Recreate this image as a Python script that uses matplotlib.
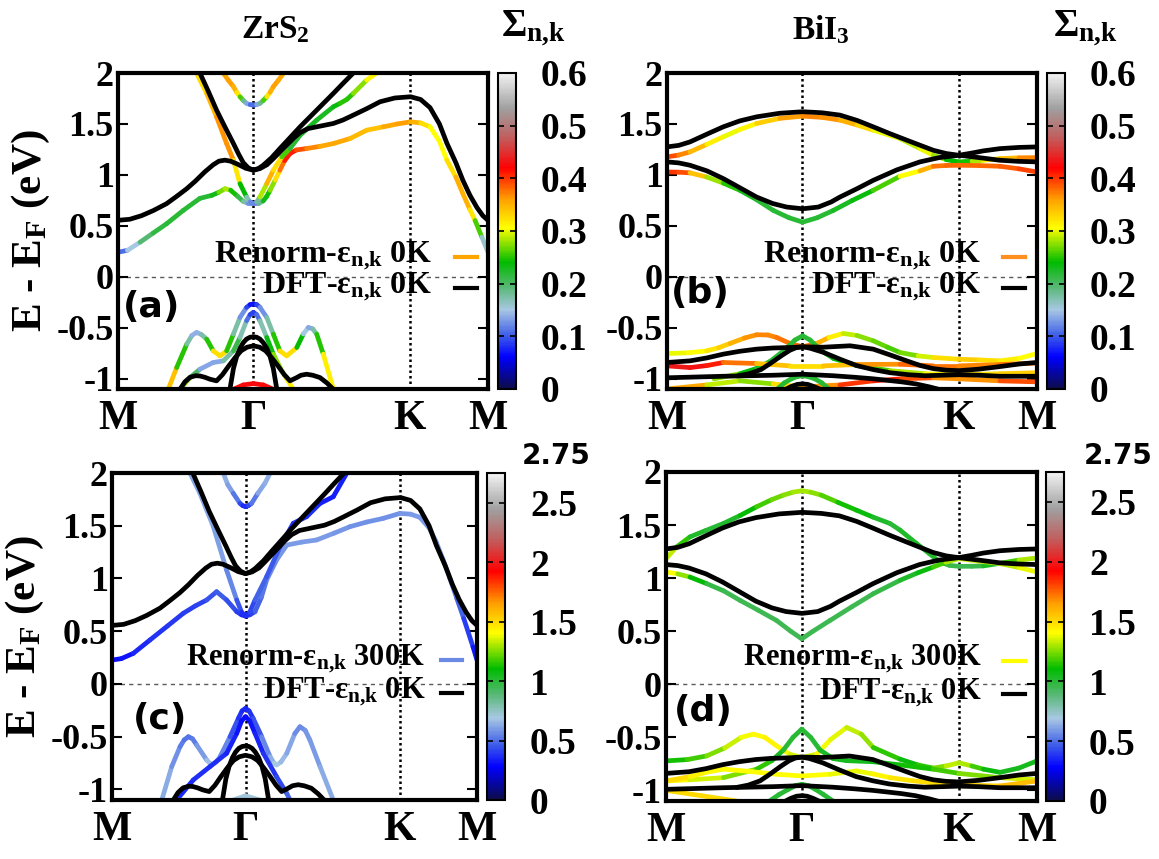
import numpy as np
import matplotlib
matplotlib.use("Agg")
import matplotlib.pyplot as plt
from matplotlib.collections import LineCollection
from matplotlib.colors import LinearSegmentedColormap, Normalize
from matplotlib.cm import ScalarMappable

plt.rcParams['font.family'] = 'Liberation Serif'
plt.rcParams['font.weight'] = 'bold'
plt.rcParams['axes.labelweight'] = 'bold'
plt.rcParams['mathtext.fontset'] = 'custom'
plt.rcParams['mathtext.rm'] = 'Liberation Serif:bold'
plt.rcParams['mathtext.it'] = 'Liberation Serif:bold'
plt.rcParams['mathtext.bf'] = 'Liberation Serif:bold'

# high-symmetry path M - Gamma - K - M
k_ticks = [0.0, 0.577, 1.244, 1.577]
k_labels = ['M', 'Γ', 'K', 'M']

# ---- ZrS2, DFT bands (k, E) ----
zr_dft_cb1 = ([0.0, 0.05, 0.10, 0.15, 0.207, 0.25, 0.293, 0.33, 0.37, 0.406, 0.43, 0.455, 0.48, 0.51, 0.545,
               0.577, 0.605, 0.635, 0.662, 0.69, 0.719, 0.748, 0.776, 0.81, 0.847, 0.918, 0.96, 1.003, 1.06,
               1.117, 1.18, 1.247, 1.29, 1.33, 1.37, 1.402, 1.44, 1.47, 1.50, 1.53, 1.555, 1.577],
              [0.555, 0.565, 0.60, 0.65, 0.718, 0.79, 0.865, 0.94, 1.03, 1.10, 1.135, 1.145, 1.135, 1.105,
               1.065, 1.046, 1.062, 1.10, 1.16, 1.225, 1.292, 1.36, 1.415, 1.455, 1.472, 1.505, 1.54, 1.587,
               1.65, 1.718, 1.755, 1.767, 1.74, 1.66, 1.50, 1.31, 1.12, 0.947, 0.80, 0.68, 0.60, 0.555])
zr_dft_cb2 = ([0.33, 0.349, 0.385, 0.42, 0.456, 0.492, 0.515, 0.534, 0.555, 0.577, 0.60, 0.619, 0.655, 0.69,
               0.733, 0.776, 0.847, 0.918, 0.96, 1.003, 1.03],
              [2.08, 2.0, 1.82, 1.636, 1.47, 1.308, 1.20, 1.12, 1.07, 1.046, 1.065, 1.095, 1.17, 1.259,
               1.365, 1.472, 1.636, 1.80, 1.90, 2.0, 2.08])
zr_dft_vb1 = ([0.477, 0.492, 0.506, 0.520, 0.534, 0.548, 0.563, 0.577, 0.591, 0.605, 0.619, 0.634, 0.648,
               0.662, 0.677],
              [-1.103, -0.90, -0.78, -0.70, -0.645, -0.61, -0.592, -0.588, -0.592, -0.61, -0.645, -0.70,
               -0.78, -0.90, -1.103])
zr_dft_vb2 = ([0.264, 0.285, 0.307, 0.33, 0.349, 0.37, 0.392, 0.42, 0.445, 0.47, 0.50, 0.525, 0.55, 0.577,
               0.604, 0.629, 0.654, 0.684, 0.709, 0.733, 0.76, 0.78, 0.804, 0.83, 0.861, 0.89, 0.918],
              [-1.103, -1.03, -0.985, -0.97, -0.972, -0.985, -1.004, -1.02, -0.96, -0.88, -0.79, -0.725,
               -0.69, -0.676, -0.69, -0.725, -0.79, -0.88, -0.96, -1.02, -0.99, -0.965, -0.955, -0.965,
               -0.988, -1.04, -1.103])

# ---- ZrS2, renormalised 0K (k, E, Sigma) ----
zr0_cb1 = ([0.0, 0.04, 0.094, 0.15, 0.207, 0.278, 0.349, 0.40, 0.43, 0.456, 0.48, 0.51, 0.534, 0.555, 0.577,
            0.60, 0.619, 0.634, 0.648, 0.67, 0.69, 0.71, 0.733, 0.76, 0.804, 0.86, 0.918, 0.989, 1.06, 1.131,
            1.19, 1.247, 1.29, 1.33, 1.37, 1.402, 1.44, 1.47, 1.50, 1.522, 1.551, 1.577],
           [0.242, 0.26, 0.34, 0.43, 0.521, 0.652, 0.77, 0.80, 0.83, 0.865, 0.85, 0.79, 0.74, 0.72, 0.718,
            0.72, 0.745, 0.79, 0.849, 0.95, 1.046, 1.14, 1.21, 1.245, 1.259, 1.28, 1.308, 1.357, 1.439,
            1.472, 1.50, 1.521, 1.51, 1.472, 1.33, 1.144, 0.98, 0.816, 0.66, 0.553, 0.39, 0.242],
           [0.10, 0.12, 0.18, 0.21, 0.22, 0.22, 0.22, 0.22, 0.24, 0.30, 0.27, 0.22, 0.20, 0.15, 0.10,
            0.15, 0.22, 0.24, 0.25, 0.30, 0.35, 0.40, 0.42, 0.40, 0.38, 0.36, 0.35, 0.36, 0.33, 0.35,
            0.36, 0.36, 0.34, 0.31, 0.30, 0.31, 0.34, 0.36, 0.34, 0.30, 0.22, 0.10])
zr0_cb2 = ([0.33, 0.335, 0.378, 0.42, 0.463, 0.492, 0.52, 0.548, 0.563, 0.577, 0.591, 0.605, 0.634, 0.662,
            0.698, 0.733, 0.776, 0.847, 0.918, 0.946, 0.975, 1.003, 1.06, 1.10, 1.11],
           [2.05, 1.997, 1.80, 1.57, 1.308, 1.144, 0.914, 0.783, 0.735, 0.718, 0.735, 0.783, 0.914, 1.046,
            1.177, 1.259, 1.39, 1.538, 1.669, 1.702, 1.74, 1.80, 1.931, 1.997, 2.05],
           [0.32, 0.32, 0.33, 0.36, 0.37, 0.36, 0.28, 0.20, 0.14, 0.10, 0.14, 0.22, 0.35, 0.35,
            0.30, 0.22, 0.22, 0.23, 0.22, 0.25, 0.25, 0.25, 0.30, 0.32, 0.32])
zr0_cb3 = ([0.43, 0.449, 0.47, 0.492, 0.506, 0.52, 0.534, 0.548, 0.563, 0.577, 0.591, 0.605, 0.619, 0.634,
            0.648, 0.662, 0.684, 0.705, 0.72],
           [2.05, 1.997, 1.93, 1.866, 1.81, 1.767, 1.73, 1.702, 1.69, 1.685, 1.69, 1.702, 1.73, 1.767,
            1.81, 1.866, 1.93, 1.997, 2.05],
           [0.35, 0.35, 0.36, 0.36, 0.34, 0.30, 0.22, 0.15, 0.12, 0.10, 0.12, 0.15, 0.22, 0.30,
            0.34, 0.36, 0.36, 0.35, 0.35])
zr0_vb1 = ([0.214, 0.250, 0.293, 0.315, 0.335, 0.355, 0.378, 0.406, 0.435, 0.463, 0.492, 0.520, 0.548,
            0.563, 0.577, 0.591, 0.605, 0.634, 0.662, 0.690, 0.719, 0.762, 0.79, 0.811, 0.83, 0.847,
            0.875, 0.918],
           [-1.103, -0.89, -0.66, -0.575, -0.545, -0.565, -0.611, -0.726, -0.775, -0.726, -0.562, -0.398,
            -0.299, -0.272, -0.266, -0.272, -0.299, -0.398, -0.562, -0.726, -0.775, -0.693, -0.56,
            -0.496, -0.51, -0.562, -0.758, -1.103],
           [0.38, 0.30, 0.20, 0.15, 0.13, 0.15, 0.20, 0.30, 0.35, 0.30, 0.20, 0.15, 0.10, 0.08, 0.06,
            0.08, 0.10, 0.15, 0.20, 0.30, 0.35, 0.30, 0.18, 0.12, 0.15, 0.20, 0.30, 0.33])
zr0_vb2 = ([0.264, 0.307, 0.349, 0.406, 0.449, 0.492, 0.520, 0.548, 0.563, 0.577, 0.591, 0.605, 0.634,
            0.662, 0.698, 0.747],
           [-1.103, -0.988, -0.906, -0.84, -0.824, -0.726, -0.594, -0.43, -0.37, -0.348, -0.37, -0.43,
            -0.594, -0.758, -0.922, -1.103],
           [0.30, 0.25, 0.15, 0.12, 0.15, 0.20, 0.22, 0.12, 0.10, 0.08, 0.10, 0.12, 0.22, 0.25, 0.30, 0.33])
zr0_vb3 = ([0.492, 0.534, 0.577, 0.619, 0.662],
           [-1.103, -1.06, -1.047, -1.06, -1.103],
           [0.42, 0.43, 0.42, 0.43, 0.42])

# ---- ZrS2, renormalised 300K (k, E, Sigma) ----
zr300_cb1 = ([0.0, 0.04, 0.092, 0.164, 0.24, 0.308, 0.36, 0.409, 0.452, 0.495, 0.539, 0.56, 0.577, 0.595,
              0.618, 0.645, 0.668, 0.711, 0.755, 0.82, 0.884, 0.96, 1.028, 1.10, 1.172, 1.244, 1.29, 1.33,
              1.37, 1.40, 1.43, 1.46, 1.49, 1.52, 1.56, 1.577],
             [0.227, 0.24, 0.29, 0.417, 0.55, 0.67, 0.74, 0.796, 0.875, 0.796, 0.685, 0.655, 0.644, 0.655,
              0.685, 0.82, 0.985, 1.175, 1.317, 1.345, 1.365, 1.43, 1.491, 1.535, 1.57, 1.617, 1.61, 1.58,
              1.48, 1.35, 1.18, 1.0, 0.81, 0.62, 0.35, 0.227],
             [0.30, 0.31, 0.33, 0.38, 0.39, 0.40, 0.41, 0.42, 0.48, 0.45, 0.42, 0.38, 0.35, 0.38,
              0.45, 0.50, 0.55, 0.58, 0.60, 0.60, 0.60, 0.59, 0.58, 0.58, 0.58, 0.58, 0.59, 0.60,
              0.60, 0.60, 0.58, 0.55, 0.50, 0.45, 0.35, 0.30])
zr300_cb2 = ([0.32, 0.330, 0.380, 0.438, 0.495, 0.539, 0.56, 0.577, 0.595, 0.618, 0.668, 0.726, 0.783,
              0.841, 0.899, 0.956, 1.014, 1.03],
             [2.06, 2.03, 1.807, 1.491, 1.08, 0.796, 0.68, 0.644, 0.68, 0.796, 1.017, 1.301, 1.523,
              1.586, 1.712, 1.775, 1.997, 2.06],
             [0.62, 0.62, 0.62, 0.62, 0.60, 0.50, 0.40, 0.35, 0.40, 0.45, 0.50, 0.42, 0.35,
              0.40, 0.35, 0.32, 0.35, 0.35])
zr300_cb3 = ([0.47, 0.481, 0.50, 0.524, 0.553, 0.565, 0.577, 0.589, 0.603, 0.63, 0.66, 0.683, 0.69],
             [2.05, 1.997, 1.89, 1.807, 1.712, 1.69, 1.681, 1.69, 1.712, 1.807, 1.90, 1.997, 2.05],
             [0.65, 0.65, 0.62, 0.60, 0.45, 0.40, 0.35, 0.40, 0.45, 0.60, 0.63, 0.65, 0.65])
zr300_vb1 = ([0.215, 0.258, 0.294, 0.312, 0.330, 0.348, 0.366, 0.409, 0.431, 0.45, 0.467, 0.510, 0.546,
              0.562, 0.577, 0.592, 0.610, 0.647, 0.683, 0.70, 0.711, 0.73, 0.755, 0.79, 0.812, 0.835,
              0.855, 0.899, 0.956],
             [-1.10, -0.784, -0.594, -0.53, -0.5, -0.52, -0.579, -0.721, -0.768, -0.74, -0.689, -0.5,
              -0.326, -0.255, -0.231, -0.255, -0.326, -0.5, -0.689, -0.75, -0.768, -0.74, -0.658,
              -0.47, -0.405, -0.44, -0.531, -0.784, -1.10],
             [0.65, 0.60, 0.55, 0.52, 0.50, 0.52, 0.55, 0.65, 0.70, 0.66, 0.60, 0.50, 0.40, 0.37,
              0.35, 0.37, 0.40, 0.50, 0.60, 0.68, 0.70, 0.68, 0.65, 0.58, 0.55, 0.57, 0.60, 0.60, 0.65])
zr300_vb2 = ([0.279, 0.351, 0.423, 0.495, 0.539, 0.56, 0.577, 0.595, 0.618, 0.654, 0.711, 0.755, 0.769],
             [-1.10, -0.91, -0.784, -0.658, -0.468, -0.35, -0.31, -0.35, -0.468, -0.658, -0.879, -1.037,
              -1.10],
             [0.35, 0.36, 0.38, 0.36, 0.33, 0.31, 0.30, 0.31, 0.33, 0.36, 0.40, 0.45, 0.50])
zr300_vb3 = ([0.524, 0.577, 0.639], [-1.10, -1.06, -1.10], [0.70, 0.70, 0.70])

# ---- BiI3, DFT bands (k, E) ----
bi_dft_cb1 = ([0.0, 0.05, 0.098, 0.17, 0.24, 0.31, 0.382, 0.48, 0.578, 0.66, 0.737, 0.81, 0.879, 0.95,
               1.022, 1.08, 1.135, 1.19, 1.244, 1.30, 1.348, 1.419, 1.50, 1.577],
              [1.275, 1.29, 1.324, 1.40, 1.472, 1.53, 1.570, 1.605, 1.620, 1.610, 1.587, 1.535, 1.472,
               1.405, 1.341, 1.29, 1.242, 1.21, 1.193, 1.215, 1.236, 1.258, 1.27, 1.275])
bi_dft_cb2 = ([0.0, 0.05, 0.098, 0.17, 0.24, 0.31, 0.382, 0.45, 0.51, 0.578, 0.645, 0.70, 0.737, 0.81,
               0.879, 0.98, 1.078, 1.16, 1.244, 1.33, 1.419, 1.50, 1.577],
              [1.128, 1.118, 1.095, 1.04, 0.964, 0.875, 0.783, 0.72, 0.685, 0.668, 0.685, 0.735, 0.783,
               0.865, 0.947, 1.05, 1.128, 1.17, 1.193, 1.17, 1.144, 1.133, 1.128])
bi_dft_vb1 = ([0.0, 0.098, 0.17, 0.24, 0.31, 0.382, 0.45, 0.524, 0.578, 0.666, 0.78, 0.879, 0.95, 1.022,
               1.08, 1.135, 1.19, 1.244, 1.33, 1.419, 1.50, 1.577],
              [-0.84, -0.824, -0.795, -0.758, -0.73, -0.709, -0.698, -0.693, -0.686, -0.69, -0.676, -0.709,
               -0.765, -0.824, -0.87, -0.90, -0.915, -0.92, -0.905, -0.88, -0.855, -0.84])
bi_dft_vb2 = ([0.30, 0.35, 0.40, 0.44, 0.49, 0.524, 0.55, 0.578, 0.61, 0.666, 0.74, 0.808, 0.88, 0.95,
               1.03, 1.1, 1.17, 1.244, 1.33, 1.419, 1.50, 1.577],
              [-0.972, -0.95, -0.91, -0.85, -0.77, -0.72, -0.695, -0.686, -0.70, -0.74, -0.81, -0.87,
               -0.91, -0.94, -0.96, -0.97, -0.965, -0.96, -0.965, -0.975, -0.975, -0.975])
bi_dft_vb3 = ([0.0, 0.24, 0.453, 0.578, 0.709, 0.80, 0.879, 0.94, 1.0, 1.06, 1.12, 1.17],
              [-0.99, -0.975, -0.965, -0.955, -0.97, -0.985, -1.0, -1.015, -1.03, -1.05, -1.08, -1.11])
bi_dft_vb4 = ([0.50, 0.53, 0.555, 0.578, 0.60, 0.625, 0.66], [-1.11, -1.075, -1.055, -1.05, -1.055, -1.075, -1.11])

# ---- BiI3, renormalised 0K (k, E, Sigma) ----
bi0_cb1 = ([0.0, 0.05, 0.098, 0.17, 0.24, 0.31, 0.382, 0.48, 0.578, 0.66, 0.737, 0.81, 0.879, 0.993, 1.078,
            1.135, 1.19, 1.244, 1.30, 1.348, 1.419, 1.50, 1.577],
           [1.177, 1.195, 1.226, 1.30, 1.374, 1.445, 1.505, 1.555, 1.577, 1.565, 1.538, 1.49, 1.439, 1.357,
            1.259, 1.193, 1.15, 1.128, 1.135, 1.144, 1.16, 1.168, 1.17],
           [0.40, 0.38, 0.36, 0.33, 0.30, 0.30, 0.32, 0.35, 0.37, 0.37, 0.36, 0.34, 0.32, 0.28, 0.30,
            0.30, 0.26, 0.22, 0.27, 0.30, 0.33, 0.36, 0.38])
bi0_cb2 = ([0.0, 0.05, 0.098, 0.169, 0.24, 0.311, 0.38, 0.453, 0.52, 0.578, 0.64, 0.709, 0.79, 0.879, 0.993,
            1.078, 1.135, 1.19, 1.244, 1.33, 1.419, 1.50, 1.577],
           [1.029, 1.027, 1.02, 0.98, 0.92, 0.849, 0.76, 0.652, 0.58, 0.537, 0.58, 0.652, 0.75, 0.849, 0.987,
            1.04, 1.085, 1.093, 1.095, 1.092, 1.085, 1.06, 1.029],
           [0.40, 0.40, 0.38, 0.30, 0.26, 0.24, 0.22, 0.22, 0.22, 0.22, 0.22, 0.22, 0.23, 0.24, 0.28,
            0.33, 0.37, 0.38, 0.38, 0.38, 0.38, 0.39, 0.40])
bi0_vb1 = ([0.0, 0.09, 0.169, 0.22, 0.269, 0.33, 0.382, 0.43, 0.467, 0.524, 0.578, 0.638, 0.69, 0.751, 0.81,
            0.879, 0.94, 0.993, 1.07, 1.135, 1.244, 1.33, 1.419, 1.50, 1.577],
           [-0.752, -0.745, -0.726, -0.695, -0.653, -0.60, -0.568, -0.57, -0.594, -0.653, -0.686, -0.653,
            -0.595, -0.555, -0.575, -0.627, -0.69, -0.742, -0.775, -0.791, -0.808, -0.815, -0.824, -0.80,
            -0.752],
           [0.30, 0.30, 0.31, 0.33, 0.34, 0.36, 0.37, 0.37, 0.37, 0.38, 0.38, 0.37, 0.33, 0.30, 0.28,
            0.27, 0.26, 0.26, 0.28, 0.31, 0.34, 0.33, 0.32, 0.31, 0.30])
bi0_vb2 = ([0.20, 0.311, 0.38, 0.439, 0.50, 0.545, 0.578, 0.61, 0.655, 0.709, 0.808, 0.95, 1.1, 1.244, 1.42,
            1.577],
           [-1.0, -0.95, -0.90, -0.83, -0.72, -0.62, -0.578, -0.62, -0.72, -0.80, -0.87, -0.92, -0.95, -0.96,
            -0.95, -0.94],
           [0.30, 0.25, 0.23, 0.22, 0.22, 0.22, 0.22, 0.22, 0.22, 0.23, 0.25, 0.27, 0.30, 0.32, 0.33, 0.34])
bi0_vb3 = ([0.0, 0.098, 0.17, 0.24, 0.382, 0.524, 0.578, 0.666, 0.808, 0.993, 1.135, 1.244, 1.419, 1.577],
           [-0.873, -0.89, -0.87, -0.84, -0.85, -0.873, -0.873, -0.873, -0.86, -0.857, -0.873, -0.873, -0.86,
            -0.845],
           [0.43, 0.44, 0.42, 0.40, 0.35, 0.33, 0.32, 0.33, 0.35, 0.38, 0.38, 0.37, 0.37, 0.38])
bi0_vb4 = ([0.0, 0.169, 0.311, 0.453, 0.578, 0.737, 0.879, 1.0, 1.135, 1.244, 1.419, 1.577],
           [-1.10, -1.06, -1.02, -1.05, -1.08, -1.06, -1.02, -1.0, -0.99, -1.0, -1.02, -1.03],
           [0.38, 0.33, 0.25, 0.30, 0.35, 0.38, 0.42, 0.40, 0.38, 0.35, 0.38, 0.40])
bi0_vb5 = ([0.47, 0.50, 0.53, 0.555, 0.578, 0.60, 0.63, 0.66, 0.69],
           [-1.10, -1.04, -1.0, -0.978, -0.97, -0.978, -1.0, -1.04, -1.10],
           [0.22, 0.22, 0.22, 0.22, 0.22, 0.22, 0.22, 0.22, 0.22])

# ---- BiI3, renormalised 300K (k, E, Sigma) ----
bi300_cb1 = ([0.0, 0.045, 0.102, 0.17, 0.244, 0.315, 0.385, 0.45, 0.499, 0.54, 0.577, 0.615, 0.66, 0.73,
              0.81, 0.88, 0.952, 0.995, 1.065, 1.12, 1.164, 1.205, 1.245, 1.30, 1.349, 1.42, 1.50, 1.577],
             [1.184, 1.294, 1.389, 1.45, 1.515, 1.59, 1.672, 1.74, 1.782, 1.81, 1.823, 1.81, 1.782, 1.715,
              1.64, 1.575, 1.515, 1.452, 1.326, 1.23, 1.152, 1.12, 1.111, 1.112, 1.115, 1.14, 1.17, 1.19],
             [1.40, 1.25, 1.05, 1.00, 1.00, 1.05, 1.15, 1.20, 1.25, 1.28, 1.30, 1.28, 1.25, 1.15,
              1.10, 1.05, 1.00, 1.00, 1.05, 1.02, 1.00, 0.97, 0.95, 0.96, 0.97, 1.10, 1.25, 1.35])
bi300_cb2 = ([0.0, 0.05, 0.102, 0.173, 0.245, 0.315, 0.39, 0.47, 0.53, 0.577, 0.625, 0.697, 0.79, 0.881,
              0.995, 1.07, 1.136, 1.19, 1.245, 1.33, 1.42, 1.50, 1.577],
             [1.058, 1.04, 1.01, 0.948, 0.88, 0.79, 0.70, 0.601, 0.50, 0.428, 0.50, 0.601, 0.73, 0.853,
              0.98, 1.05, 1.105, 1.15, 1.184, 1.16, 1.137, 1.10, 1.058],
             [1.45, 1.35, 1.20, 1.00, 0.95, 0.95, 0.95, 0.95, 0.95, 0.95, 0.95, 0.95, 0.95, 0.95,
              1.00, 1.05, 1.10, 1.25, 1.35, 1.33, 1.30, 1.35, 1.40])
bi300_vb1 = ([0.0, 0.09, 0.173, 0.25, 0.32, 0.371, 0.42, 0.47, 0.527, 0.577, 0.64, 0.70, 0.768, 0.83, 0.881,
              0.995, 1.07, 1.136, 1.19, 1.245, 1.30, 1.349, 1.42, 1.50, 1.577],
             [-0.722, -0.71, -0.675, -0.60, -0.50, -0.47, -0.50, -0.58, -0.66, -0.69, -0.659, -0.52, -0.407,
              -0.47, -0.596, -0.706, -0.76, -0.79, -0.77, -0.74, -0.77, -0.80, -0.83, -0.79, -0.722],
             [1.10, 1.15, 1.20, 1.30, 1.38, 1.40, 1.42, 1.45, 1.40, 1.30, 1.40, 1.38, 1.35, 1.30, 1.25,
              1.05, 1.10, 1.20, 1.30, 1.35, 1.25, 1.10, 1.05, 1.05, 1.05])
bi300_vb2 = ([0.0, 0.10, 0.244, 0.385, 0.45, 0.499, 0.54, 0.577, 0.615, 0.655, 0.71, 0.768, 0.881, 0.995,
              1.136, 1.245, 1.42, 1.577],
             [-0.911, -0.90, -0.88, -0.80, -0.72, -0.62, -0.50, -0.423, -0.50, -0.62, -0.70, -0.72, -0.73,
              -0.76, -0.80, -0.84, -0.88, -0.90],
             [1.45, 1.40, 1.30, 1.20, 1.10, 1.00, 1.00, 1.00, 1.00, 1.00, 1.05, 1.05, 1.05, 1.10,
              1.15, 1.20, 1.30, 1.40])
bi300_vb3 = ([0.0, 0.102, 0.17, 0.244, 0.35, 0.47, 0.577, 0.697, 0.81, 0.88, 0.952, 1.05, 1.136, 1.245, 1.42,
              1.577],
             [-0.911, -0.87, -0.83, -0.80, -0.82, -0.848, -0.864, -0.848, -0.817, -0.845, -0.88, -0.91, -0.93,
              -0.95, -0.958, -0.911],
             [1.55, 1.45, 1.42, 1.40, 1.40, 1.40, 1.40, 1.40, 1.35, 1.40, 1.45, 1.48, 1.50, 1.50, 1.55, 1.60])
bi300_vb4 = ([0.44, 0.48, 0.52, 0.55, 0.577, 0.605, 0.635, 0.67, 0.71],
             [-1.10, -1.04, -0.99, -0.955, -0.943, -0.955, -0.99, -1.04, -1.10],
             [1.0, 1.0, 1.0, 1.0, 1.0, 1.0, 1.0, 1.0, 1.0])
bi300_vb5 = ([0.0, 0.15, 0.3], [-1.0, -1.05, -1.10], [1.5, 1.5, 1.5])

cmap = LinearSegmentedColormap.from_list('sigma', [
    (0.00, '#0c0c4a'), (0.10, '#0000ff'), (0.17, '#4060e8'), (0.25, '#a8c8e4'),
    (0.32, '#5ab878'), (0.40, '#00bb00'), (0.51, '#ffff00'), (0.60, '#ffa000'),
    (0.70, '#ff0000'), (0.80, '#c06060'), (0.89, '#a0a0a0'), (1.00, '#f2f2f2')])

W, H = 1159, 859
fig = plt.figure(figsize=(W / 100, H / 100), dpi=100)
SUB = '$_\\mathregular{n{,}k}$'


def px_axes(x0, x1, y0, y1):
    return fig.add_axes([x0 / W, 1 - y1 / H, (x1 - x0) / W, (y1 - y0) / H])


def color_band(ax, band, norm):
    k, e, s = (np.asarray(v, dtype=float) for v in band)
    pts = np.column_stack([k, e])
    segs = np.stack([pts[:-1], pts[1:]], axis=1)
    lc = LineCollection(segs, cmap=cmap, norm=norm, linewidths=3.4,
                        capstyle='round', joinstyle='round', zorder=3)
    lc.set_array((s[:-1] + s[1:]) / 2)
    ax.add_collection(lc)


def setup_panel(ax, ylabel):
    ax.set_xlim(0, 1.577)
    ax.set_ylim(-1.1, 2)
    for sp in ax.spines.values():
        sp.set_linewidth(3)
        sp.set_zorder(6)
    ax.axhline(0, color='0.35', lw=1, ls=(0, (3, 3)), zorder=1)
    for kv in k_ticks[1:3]:
        ax.axvline(kv, color='k', lw=1.8, ls=(0, (1, 1.2)), zorder=1)
    ax.set_xticks(k_ticks)
    ax.set_xticklabels(k_labels, fontsize=30)
    ax.tick_params(axis='x', length=0, pad=8)
    ax.set_yticks([-1, -0.5, 0, 0.5, 1, 1.5, 2])
    ax.set_yticklabels(['-1', '-0.5', '0', '0.5', '1', '1.5', '2'], fontsize=26)
    ax.tick_params(axis='y', direction='in', length=7, width=1.5, left=True, right=True, pad=3)
    if ylabel:
        ax.set_ylabel('E - E$_\\mathregular{F}$ (eV)', fontsize=31, fontweight='bold', labelpad=3)


def add_cbar(x0, x1, y0, y1, vmax, ticks, labels):
    cax = px_axes(x0, x1, y0, y1)
    sm = ScalarMappable(norm=Normalize(0, vmax), cmap=cmap)
    cb = fig.colorbar(sm, cax=cax, ticks=ticks)
    cb.ax.set_yticklabels(labels, fontsize=27)
    cb.outline.set_linewidth(1.5)
    cax.tick_params(direction='in', length=4, width=1.2, left=True, right=True, pad=18)
    return cax


def legend(ax, renorm_label, color, x, y_top, y_bot, x_line, size):
    ax.text(x, y_top, 'Renorm-ε' + SUB + ' ' + renorm_label, transform=ax.transAxes,
            ha='right', va='baseline', fontsize=size, zorder=5)
    ax.text(x, y_bot, 'DFT-ε' + SUB + ' 0K', transform=ax.transAxes,
            ha='right', va='baseline', fontsize=size, zorder=5)
    ax.plot(x_line, [y_top + 0.015] * 2, color=color, lw=3, transform=ax.transAxes, zorder=5)
    ax.plot(x_line, [y_bot + 0.015] * 2, color='k', lw=3, transform=ax.transAxes, zorder=5)


norm_lo = Normalize(0, 0.6)
norm_hi = Normalize(0, 2.75)

panels = [
    dict(rect=(118, 488, 73, 389), cb=(498, 516, 73, 389), ylabel=True, norm=norm_lo,
         colored=[zr0_cb1, zr0_cb2, zr0_cb3, zr0_vb1, zr0_vb2, zr0_vb3],
         dft=[zr_dft_cb1, zr_dft_cb2, zr_dft_vb1, zr_dft_vb2],
         tag='(a)', tag_xy=(0.092, 0.259),
         leg=('0K', '#ffa500', 0.851, 0.402, 0.304, [0.911, 0.97], 23)),
    dict(rect=(667, 1037, 73, 389), cb=(1047, 1065, 73, 389), ylabel=False, norm=norm_lo,
         colored=[bi0_cb1, bi0_cb2, bi0_vb1, bi0_vb2, bi0_vb3, bi0_vb4, bi0_vb5],
         dft=[bi_dft_cb1, bi_dft_cb2, bi_dft_vb1, bi_dft_vb2, bi_dft_vb3, bi_dft_vb4],
         tag='(b)', tag_xy=(0.089, 0.304),
         leg=('0K', '#ff9020', 0.851, 0.402, 0.304, [0.908, 0.968], 23)),
    dict(rect=(112, 477, 473, 800), cb=(487, 505, 473, 800), ylabel=True, norm=norm_hi,
         colored=[zr300_cb1, zr300_cb2, zr300_cb3, zr300_vb1, zr300_vb2, zr300_vb3],
         dft=[zr_dft_cb1, zr_dft_cb2, zr_dft_vb1, zr_dft_vb2],
         tag='(c)', tag_xy=(0.131, 0.248),
         leg=('300K', '#6a8ae6', 0.858, 0.412, 0.312, [0.90, 0.96], 22)),
    dict(rect=(666, 1037, 472, 801), cb=(1046, 1064, 472, 801), ylabel=False, norm=norm_hi,
         colored=[bi300_cb1, bi300_cb2, bi300_vb1, bi300_vb2, bi300_vb3, bi300_vb4, bi300_vb5],
         dft=[bi_dft_cb1, bi_dft_cb2, bi_dft_vb1, bi_dft_vb2, bi_dft_vb3, bi_dft_vb4],
         tag='(d)', tag_xy=(0.10, 0.274),
         leg=('300K', '#ffff00', 0.852, 0.412, 0.310, [0.908, 0.968], 22)),
]

for p in panels:
    ax = px_axes(*p['rect'])
    setup_panel(ax, p['ylabel'])
    for band in p['colored']:
        color_band(ax, band, p['norm'])
    for k, e in p['dft']:
        ax.plot(k, e, color='k', lw=3.4, solid_joinstyle='round', solid_capstyle='round', zorder=4)
    ax.text(*p['tag_xy'], p['tag'], transform=ax.transAxes, ha='center', va='center',
            fontsize=26, family='DejaVu Sans', weight='bold', zorder=5)
    legend(ax, *p['leg'])
    if p['norm'] is norm_lo:
        add_cbar(*p['cb'], 0.6, [0, 0.1, 0.2, 0.3, 0.4, 0.5, 0.6],
                 ['0', '0.1', '0.2', '0.3', '0.4', '0.5', '0.6'])
    else:
        add_cbar(*p['cb'], 2.75, [0, 0.5, 1, 1.5, 2, 2.5],
                 ['0', '0.5', '1', '1.5', '2', '2.5'])

fig.text(275 / W, 1 - 30 / H, 'ZrS$_\\mathregular{2}$', ha='center', va='center', fontsize=24)
fig.text(821 / W, 1 - 30 / H, 'BiI$_\\mathregular{3}$', ha='center', va='center', fontsize=24)
fig.text(533 / W, 1 - 28 / H, 'Σ' + SUB, ha='center', va='center', fontsize=28)
fig.text(1085 / W, 1 - 28 / H, 'Σ' + SUB, ha='center', va='center', fontsize=28)
fig.text(556 / W, 1 - 456 / H, '2.75', ha='center', va='center', fontsize=20,
         family='DejaVu Sans', weight='bold')
fig.text(1118 / W, 1 - 456 / H, '2.75', ha='center', va='center', fontsize=20,
         family='DejaVu Sans', weight='bold')

fig.savefig('out.png', dpi=100)
